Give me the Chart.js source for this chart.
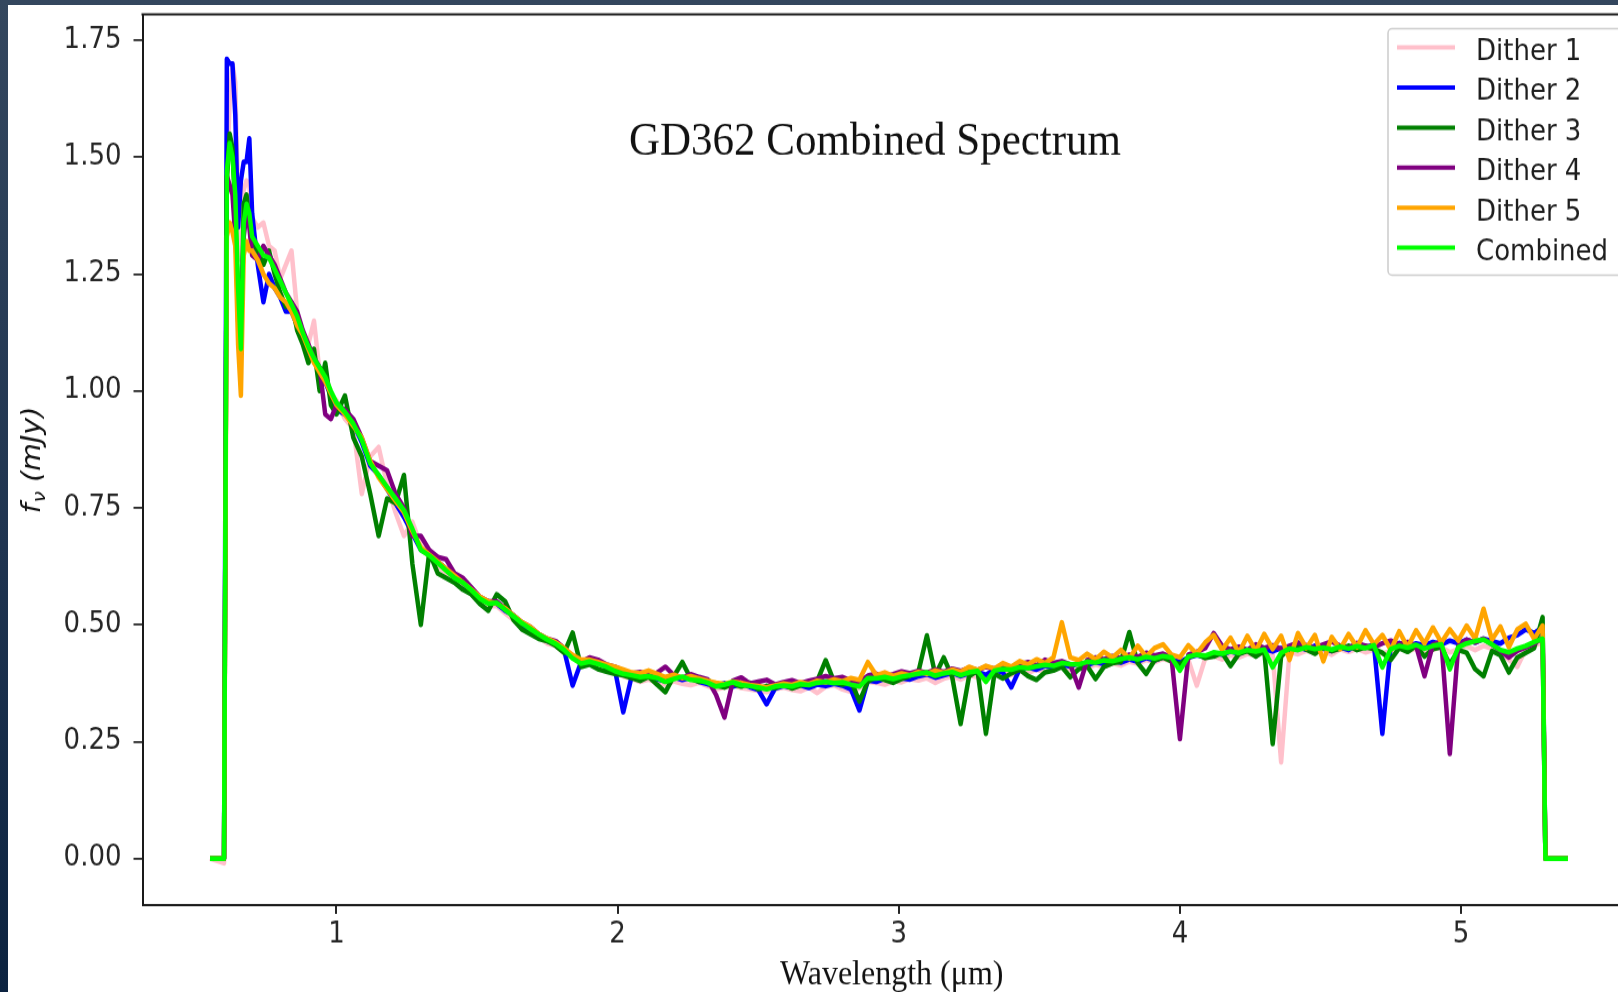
<!DOCTYPE html>
<html>
<head>
<meta charset="utf-8">
<script src="https://cdn.jsdelivr.net/npm/chart.js@4.4.1/dist/chart.umd.min.js"></script>
<style>
  html, body { margin: 0; width: 1618px; height: 992px; overflow: hidden;
    background: linear-gradient(180deg, #34475e 0%, #1f3450 55%, #0c2340 100%); }
  #panel { position: absolute; left: 8px; top: 5px; width: 1610px; height: 987px; background: #fff; overflow: hidden; }
  #spec { position: absolute; left: 0; top: 0; }
</style>
</head>
<body>
<div id="panel">
  <canvas id="spec" width="1680" height="897" style="width:1680px;height:987px"></canvas>
</div>
<script>
// wavelength grid (µm)
const wavelength = [
  0.55, 0.60,
  0.61, 0.62, 0.63, 0.64, 0.65, 0.66, 0.67, 0.68, 0.69, 0.70,
  0.72, 0.74, 0.76, 0.78, 0.80, 0.82, 0.84, 0.86, 0.88, 0.90, 0.92, 0.94, 0.96, 0.98, 1.00,
  1.03, 1.06, 1.09, 1.12, 1.15, 1.18, 1.21, 1.24, 1.27, 1.30, 1.33, 1.36, 1.39, 1.42, 1.45, 1.48,
  1.51, 1.54, 1.57, 1.60, 1.63, 1.66, 1.69, 1.72, 1.75, 1.78, 1.81, 1.84, 1.87, 1.90, 1.93, 1.96, 1.99,
  2.02, 2.05, 2.08, 2.11, 2.14, 2.17, 2.20, 2.23, 2.26, 2.29,
  2.32, 2.35, 2.38, 2.41, 2.44, 2.47, 2.50, 2.53, 2.56, 2.59,
  2.62, 2.65, 2.68, 2.71, 2.74, 2.77, 2.80, 2.83, 2.86, 2.89,
  2.92, 2.95, 2.98, 3.01, 3.04, 3.07, 3.10, 3.13, 3.16, 3.19,
  3.22, 3.25, 3.28, 3.31, 3.34, 3.37, 3.40, 3.43, 3.46, 3.49,
  3.52, 3.55, 3.58, 3.61, 3.64, 3.67, 3.70, 3.73, 3.76, 3.79,
  3.82, 3.85, 3.88, 3.91, 3.94, 3.97, 4.00, 4.03, 4.06, 4.09,
  4.12, 4.15, 4.18, 4.21, 4.24, 4.27, 4.30, 4.33, 4.36, 4.39,
  4.42, 4.45, 4.48, 4.51, 4.54, 4.57, 4.60, 4.63, 4.66, 4.69,
  4.72, 4.75, 4.78, 4.81, 4.84, 4.87, 4.90, 4.93, 4.96, 4.99,
  5.02, 5.05, 5.08, 5.11, 5.14, 5.17, 5.20, 5.23, 5.26, 5.29,
  5.30, 5.38
];

// flux (mJy) per dither
const dither1 = [
  0, -0.01,
  1.45, 1.62, 1.70, 1.66, 1.40, 1.28, 1.43, 1.45, 1.44, 1.37,
  1.35, 1.36, 1.31, 1.30, 1.24, 1.27, 1.30, 1.17, 1.12, 1.10, 1.15, 1.04, 1.02, 0.99, 0.98,
  0.94, 0.92, 0.78, 0.86, 0.88, 0.80, 0.74, 0.69, 0.72, 0.67, 0.645, 0.625, 0.61, 0.595, 0.585, 0.565,
  0.55, 0.54, 0.54, 0.525, 0.51, 0.495, 0.485, 0.475, 0.46, 0.455, 0.44, 0.43, 0.415, 0.415, 0.41, 0.405, 0.40,
  0.390, 0.385, 0.378, 0.383, 0.376, 0.372, 0.379, 0.374, 0.371, 0.376,
  0.369, 0.362, 0.366, 0.371, 0.365, 0.362, 0.359, 0.356, 0.363, 0.366,
  0.361, 0.358, 0.366, 0.354, 0.368, 0.371, 0.362, 0.357, 0.365, 0.378,
  0.376, 0.372, 0.379, 0.377, 0.384, 0.381, 0.386, 0.376, 0.385, 0.390,
  0.383, 0.392, 0.388, 0.386, 0.394, 0.399, 0.393, 0.401, 0.397, 0.404,
  0.399, 0.406, 0.410, 0.404, 0.412, 0.408, 0.415, 0.410, 0.418, 0.413,
  0.421, 0.417, 0.425, 0.420, 0.427, 0.422, 0.414, 0.425, 0.370, 0.428,
  0.433, 0.426, 0.435, 0.430, 0.438, 0.434, 0.441, 0.436, 0.206, 0.442,
  0.437, 0.445, 0.440, 0.446, 0.436, 0.448, 0.442, 0.449, 0.441, 0.447,
  0.438, 0.444, 0.450, 0.443, 0.449, 0.438, 0.447, 0.452, 0.441, 0.448,
  0.454, 0.446, 0.455, 0.449, 0.440, 0.425, 0.410, 0.447, 0.456, 0.462,
  0, 0
];
const dither2 = [
  0, 0,
  1.71, 1.70, 1.70, 1.59, 1.35, 1.45, 1.49, 1.49, 1.54, 1.38,
  1.27, 1.19, 1.25, 1.22, 1.20, 1.17, 1.17, 1.14, 1.11, 1.08, 1.07, 1.05, 1.02, 0.99, 0.96,
  0.95, 0.93, 0.89, 0.84, 0.82, 0.79, 0.76, 0.73, 0.695, 0.66, 0.65, 0.635, 0.62, 0.605, 0.59, 0.57,
  0.555, 0.55, 0.545, 0.53, 0.52, 0.50, 0.49, 0.475, 0.465, 0.46, 0.445, 0.37, 0.42, 0.425, 0.42, 0.41, 0.405,
  0.313, 0.390, 0.386, 0.392, 0.384, 0.379, 0.388, 0.382, 0.387, 0.378,
  0.373, 0.370, 0.375, 0.368, 0.374, 0.367, 0.361, 0.330, 0.364, 0.369,
  0.366, 0.371, 0.365, 0.372, 0.369, 0.374, 0.370, 0.362, 0.317, 0.381,
  0.378, 0.385, 0.380, 0.386, 0.383, 0.390, 0.394, 0.387, 0.392, 0.397,
  0.390, 0.396, 0.399, 0.393, 0.404, 0.398, 0.366, 0.405, 0.409, 0.404,
  0.412, 0.408, 0.415, 0.411, 0.418, 0.414, 0.420, 0.416, 0.423, 0.419,
  0.426, 0.421, 0.429, 0.424, 0.431, 0.426, 0.420, 0.430, 0.435, 0.431,
  0.440, 0.436, 0.443, 0.438, 0.446, 0.441, 0.448, 0.443, 0.450, 0.445,
  0.452, 0.447, 0.455, 0.449, 0.444, 0.452, 0.446, 0.457, 0.451, 0.458,
  0.267, 0.455, 0.461, 0.453, 0.460, 0.456, 0.463, 0.458, 0.466, 0.460,
  0.468, 0.462, 0.470, 0.465, 0.460, 0.472, 0.478, 0.490, 0.482, 0.495,
  0, 0
];
const dither3 = [
  0, 0,
  1.45, 1.55, 1.52, 1.38, 1.15, 1.08, 1.40, 1.42, 1.36, 1.32,
  1.30, 1.27, 1.30, 1.25, 1.21, 1.18, 1.19, 1.13, 1.10, 1.06, 1.09, 1.00, 1.06, 0.97, 0.95,
  0.99, 0.90, 0.86, 0.78, 0.69, 0.77, 0.76, 0.82, 0.63, 0.50, 0.655, 0.61, 0.60, 0.59, 0.575, 0.565,
  0.545, 0.53, 0.565, 0.55, 0.51, 0.49, 0.48, 0.47, 0.465, 0.455, 0.44, 0.483, 0.41, 0.415, 0.405, 0.40, 0.395,
  0.392, 0.386, 0.380, 0.389, 0.372, 0.356, 0.390, 0.420, 0.385, 0.378,
  0.382, 0.370, 0.366, 0.374, 0.368, 0.376, 0.362, 0.369, 0.365, 0.372,
  0.364, 0.370, 0.376, 0.380, 0.424, 0.378, 0.372, 0.380, 0.336, 0.379,
  0.388, 0.382, 0.376, 0.384, 0.391, 0.400, 0.477, 0.392, 0.430, 0.388,
  0.288, 0.390, 0.402, 0.267, 0.395, 0.385, 0.396, 0.404, 0.390, 0.382,
  0.398, 0.402, 0.410, 0.388, 0.405, 0.412, 0.384, 0.410, 0.418, 0.421,
  0.484, 0.418, 0.395, 0.424, 0.430, 0.422, 0.415, 0.430, 0.437, 0.429,
  0.432, 0.440, 0.412, 0.438, 0.444, 0.432, 0.445, 0.245, 0.432, 0.450,
  0.456, 0.447, 0.438, 0.452, 0.444, 0.449, 0.455, 0.446, 0.452, 0.448,
  0.440, 0.425, 0.450, 0.442, 0.455, 0.432, 0.448, 0.452, 0.415, 0.446,
  0.440, 0.405, 0.390, 0.444, 0.435, 0.398, 0.430, 0.440, 0.450, 0.516,
  0, 0
];
const dither4 = [
  0, 0,
  1.46, 1.44, 1.42, 1.33, 1.22, 1.15, 1.33, 1.38, 1.35, 1.29,
  1.28, 1.31, 1.29, 1.27, 1.24, 1.21, 1.19, 1.17, 1.13, 1.10, 1.07, 1.05, 0.95, 0.94, 0.97,
  0.96, 0.94, 0.90, 0.85, 0.84, 0.83, 0.78, 0.75, 0.69, 0.69, 0.66, 0.645, 0.64, 0.61, 0.60, 0.58,
  0.56, 0.55, 0.55, 0.535, 0.52, 0.505, 0.495, 0.48, 0.47, 0.465, 0.45, 0.43, 0.42, 0.43, 0.425, 0.415, 0.41,
  0.402, 0.396, 0.399, 0.392, 0.397, 0.410, 0.392, 0.386, 0.394, 0.388,
  0.383, 0.350, 0.302, 0.380, 0.387, 0.374, 0.378, 0.382, 0.372, 0.377,
  0.381, 0.375, 0.380, 0.384, 0.390, 0.385, 0.388, 0.380, 0.378, 0.391,
  0.395, 0.389, 0.394, 0.400, 0.396, 0.401, 0.397, 0.404, 0.399, 0.406,
  0.401, 0.408, 0.403, 0.410, 0.406, 0.413, 0.408, 0.415, 0.420, 0.413,
  0.425, 0.418, 0.422, 0.415, 0.366, 0.424, 0.430, 0.426, 0.433, 0.428,
  0.436, 0.431, 0.440, 0.434, 0.438, 0.430, 0.256, 0.436, 0.442, 0.450,
  0.482, 0.455, 0.447, 0.453, 0.446, 0.458, 0.450, 0.456, 0.448, 0.455,
  0.462, 0.456, 0.450, 0.458, 0.464, 0.455, 0.450, 0.461, 0.455, 0.452,
  0.460, 0.466, 0.458, 0.463, 0.455, 0.390, 0.458, 0.464, 0.224, 0.455,
  0.468, 0.462, 0.470, 0.458, 0.445, 0.430, 0.444, 0.452, 0.460, 0.472,
  0, 0
];
const dither5 = [
  0, 0,
  1.33, 1.36, 1.34, 1.31, 1.10, 0.99, 1.29, 1.32, 1.30, 1.30,
  1.28, 1.25, 1.23, 1.22, 1.20, 1.19, 1.17, 1.14, 1.12, 1.09, 1.06, 1.04, 1.02, 0.995, 0.97,
  0.95, 0.925, 0.90, 0.85, 0.815, 0.79, 0.765, 0.74, 0.70, 0.665, 0.65, 0.635, 0.62, 0.605, 0.59, 0.575,
  0.56, 0.55, 0.545, 0.535, 0.52, 0.505, 0.495, 0.48, 0.47, 0.462, 0.45, 0.435, 0.425, 0.425, 0.42, 0.415, 0.41,
  0.404, 0.398, 0.396, 0.402, 0.395, 0.388, 0.393, 0.386, 0.390, 0.385,
  0.380, 0.376, 0.373, 0.378, 0.375, 0.371, 0.369, 0.366, 0.370, 0.374,
  0.371, 0.377, 0.373, 0.380, 0.377, 0.383, 0.379, 0.386, 0.382, 0.420,
  0.392, 0.398, 0.390, 0.396, 0.392, 0.399, 0.395, 0.402, 0.397, 0.404,
  0.399, 0.410, 0.403, 0.412, 0.406, 0.418, 0.410, 0.422, 0.415, 0.426,
  0.418, 0.430, 0.505, 0.430, 0.424, 0.438, 0.426, 0.442, 0.430, 0.446,
  0.428, 0.455, 0.432, 0.450, 0.458, 0.436, 0.430, 0.456, 0.438, 0.462,
  0.478, 0.446, 0.472, 0.440, 0.476, 0.444, 0.480, 0.448, 0.476, 0.425,
  0.482, 0.450, 0.478, 0.422, 0.474, 0.448, 0.480, 0.452, 0.488, 0.458,
  0.478, 0.446, 0.486, 0.452, 0.488, 0.460, 0.494, 0.462, 0.490, 0.466,
  0.498, 0.470, 0.534, 0.468, 0.496, 0.452, 0.490, 0.502, 0.470, 0.498,
  0, 0
];
const combined = [
  0, 0,
  1.47, 1.53, 1.50, 1.42, 1.22, 1.09, 1.36, 1.40, 1.38, 1.33,
  1.31, 1.29, 1.285, 1.26, 1.235, 1.21, 1.185, 1.16, 1.125, 1.095, 1.07, 1.05, 1.03, 1.00, 0.975,
  0.955, 0.93, 0.895, 0.845, 0.82, 0.795, 0.77, 0.745, 0.705, 0.66, 0.648, 0.632, 0.616, 0.60, 0.59, 0.574,
  0.556, 0.545, 0.547, 0.532, 0.518, 0.503, 0.491, 0.479, 0.468, 0.459, 0.446, 0.428, 0.417, 0.421, 0.416, 0.41, 0.401,
  0.395, 0.392, 0.388, 0.390, 0.386, 0.378, 0.384, 0.389, 0.382, 0.381,
  0.376, 0.368, 0.372, 0.377, 0.371, 0.369, 0.366, 0.362, 0.368, 0.370,
  0.368, 0.373, 0.371, 0.376, 0.378, 0.375, 0.377, 0.372, 0.368, 0.386,
  0.385, 0.388, 0.384, 0.389, 0.392, 0.395, 0.398, 0.391, 0.396, 0.399,
  0.392, 0.398, 0.401, 0.378, 0.402, 0.405, 0.404, 0.409, 0.407, 0.411,
  0.414, 0.412, 0.418, 0.416, 0.415, 0.421, 0.419, 0.424, 0.422, 0.427,
  0.430, 0.426, 0.431, 0.428, 0.433, 0.430, 0.402, 0.432, 0.436, 0.434,
  0.441, 0.438, 0.443, 0.440, 0.446, 0.443, 0.447, 0.409, 0.440, 0.449,
  0.446, 0.452, 0.448, 0.451, 0.447, 0.453, 0.449, 0.454, 0.450, 0.456,
  0.409, 0.448, 0.455, 0.451, 0.457, 0.449, 0.455, 0.458, 0.405, 0.452,
  0.460, 0.465, 0.468, 0.458, 0.446, 0.441, 0.449, 0.455, 0.463, 0.470,
  0, 0
];

const seriesNames = ['Dither 1', 'Dither 2', 'Dither 3', 'Dither 4', 'Dither 5', 'Combined'];
const seriesColors = ['pink', 'blue', 'green', 'purple', 'orange', 'lime'];
const xTicks = [1, 2, 3, 4, 5];
const yTicks = [0, 0.25, 0.5, 0.75, 1.0, 1.25, 1.5, 1.75];
const titleText = 'GD362 Combined Spectrum';
const xLabel = 'Wavelength (\u03bcm)';

const allSeries = [dither1, dither2, dither3, dither4, dither5, combined];

// matplotlib-ish extras: top spine, title, axis labels, legend box
const decorPlugin = {
  id: 'decor',
  afterDraw(chart) {
    const ctx = chart.ctx;
    const a = chart.chartArea;
    ctx.save();
    ctx.strokeStyle = '#1a1a1a';
    ctx.lineWidth = 2;
    ctx.beginPath();
    ctx.moveTo(a.left - 1, a.top);
    ctx.lineTo(a.right, a.top);
    ctx.lineTo(a.right, a.bottom);
    ctx.stroke();

    ctx.fillStyle = '#111';
    ctx.textBaseline = 'alphabetic';
    ctx.textAlign = 'center';
    ctx.font = '43px "Liberation Serif"';
    ctx.fillText(titleText, 867, 136);
    ctx.font = '32px "Liberation Serif"';
    ctx.fillText(xLabel, (a.left + a.right) / 2, 889.5);

    // y label: f_nu (mJy), rotated
    ctx.save();
    ctx.translate(32, 414);
    ctx.rotate(-Math.PI / 2);
    ctx.textAlign = 'left';
    const big = 'italic 26px "DejaVu Sans"', small = 'italic 18px "DejaVu Sans"';
    ctx.font = big; const w1 = ctx.measureText('f').width;
    ctx.font = small; const w2 = ctx.measureText('\u03bd').width;
    ctx.font = big; const w3 = ctx.measureText(' (mJy)').width;
    let x0 = -(w1 + w2 + w3) / 2;
    ctx.font = big; ctx.fillText('f', x0, 0);
    ctx.font = small; ctx.fillText('\u03bd', x0 + w1 + 1, 5);
    ctx.font = big; ctx.fillText(' (mJy)', x0 + w1 + w2 + 1, 0);
    ctx.restore();

    // legend
    ctx.fillStyle = 'rgba(255,255,255,0.8)';
    ctx.strokeStyle = '#cccccc';
    ctx.lineWidth = 1.5;
    ctx.beginPath();
    ctx.roundRect(1380, 21.5, 241, 224, 4);
    ctx.fill();
    ctx.stroke();
    ctx.font = '26px "DejaVu Sans"';
    ctx.textAlign = 'left';
    chart.data.datasets.forEach((ds, i) => {
      const yy = 38.6 + i * 36.4;
      ctx.strokeStyle = ds.borderColor;
      ctx.lineWidth = 4;
      ctx.beginPath();
      ctx.moveTo(1389, yy);
      ctx.lineTo(1447, yy);
      ctx.stroke();
      ctx.fillStyle = '#1e1e1e';
      ctx.fillText(ds.label, 1468, 50 + i * 36.4);
    });
    ctx.restore();
  }
};

const ctx = document.getElementById('spec').getContext('2d');
new Chart(ctx, {
  type: 'line',
  data: {
    datasets: seriesNames.map((name, i) => ({
      label: name,
      data: wavelength.map((w, j) => ({ x: w, y: allSeries[i][j] })),
      borderColor: seriesColors[i],
      backgroundColor: seriesColors[i],
      borderWidth: 4.5,
      borderJoinStyle: 'round',
      pointRadius: 0,
      tension: 0,
      fill: false,
      order: seriesNames.length - i
    }))
  },
  options: {
    responsive: false,
    animation: false,
    devicePixelRatio: 1,
    layout: { padding: { top: 8.5, right: 47, left: 0, bottom: 0 } },
    plugins: { legend: { display: false }, tooltip: { enabled: false } },
    scales: {
      x: {
        type: 'linear',
        min: 0.31,
        max: 5.64,
        afterBuildTicks: s => { s.ticks = xTicks.map(v => ({ value: v })); },
        afterFit: s => { s.height = 79; s.paddingLeft = 0; s.paddingRight = 0; },
        ticks: {
          color: '#262626',
          font: { family: 'DejaVu Sans', size: 26 },
          padding: 4,
          maxRotation: 0,
          autoSkip: false,
          callback: v => String(v)
        },
        grid: { drawOnChartArea: false, drawTicks: true, tickLength: 8, color: '#262626', lineWidth: 2 },
        border: { display: true, color: '#1a1a1a', width: 2 }
      },
      y: {
        min: -0.0996,
        max: 1.8054,
        afterBuildTicks: s => { s.ticks = yTicks.map(v => ({ value: v })); },
        afterFit: s => { s.width = 134.5; s.paddingTop = 0; s.paddingBottom = 0; },
        ticks: {
          color: '#262626',
          font: { family: 'DejaVu Sans', size: 26 },
          padding: 12,
          autoSkip: false,
          callback: v => v.toFixed(2)
        },
        grid: { drawOnChartArea: false, drawTicks: true, tickLength: 9, color: '#262626', lineWidth: 1.8 },
        border: { display: true, color: '#1a1a1a', width: 2 }
      }
    }
  },
  plugins: [decorPlugin]
});
</script>
</body>
</html>
